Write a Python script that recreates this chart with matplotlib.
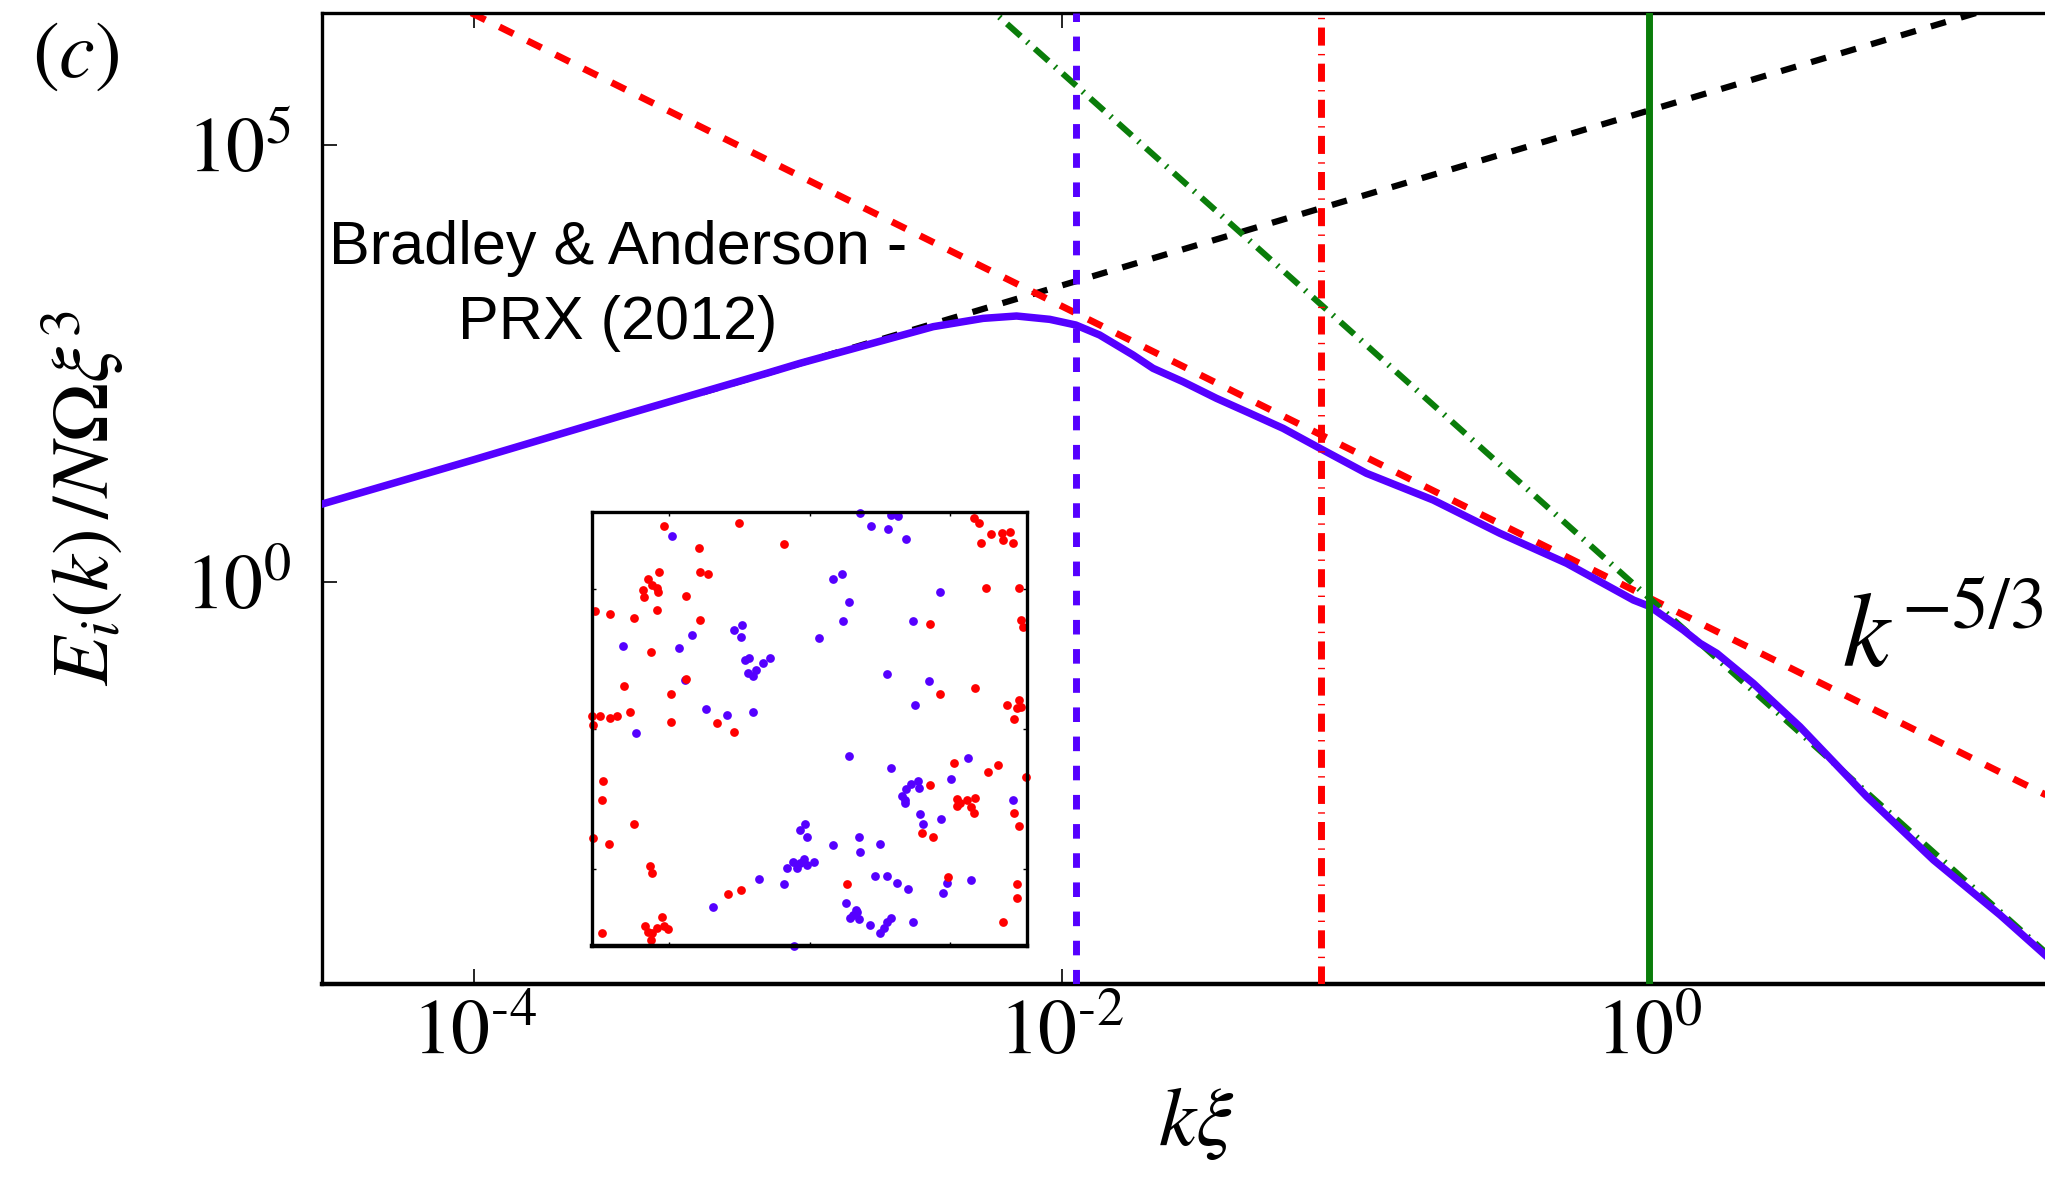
import numpy as np
import matplotlib.pyplot as plt

plt.rcParams['font.family'] = 'STIXGeneral'
plt.rcParams['mathtext.fontset'] = 'stix'

# incompressible kinetic energy spectrum, log10 of k*xi and of E_i
log_k = [-4.60, -4.52, -4.0, -3.5, -3.0, -2.892, -2.665, -2.438, -2.268, -2.154,
         -2.041, -1.952, -1.871, -1.757, -1.689, -1.587, -1.473, -1.359, -1.246,
         -1.121, -0.962, -0.735, -0.508, -0.280, -0.053, 0.003, 0.117, 0.174,
         0.231, 0.355, 0.514, 0.742, 0.969, 1.196, 1.349, 1.42]
log_E = [0.81, 0.89, 1.40, 1.90, 2.39, 2.499, 2.709, 2.918, 3.013, 3.040,
         3.002, 2.937, 2.823, 2.594, 2.442, 2.289, 2.099, 1.928, 1.756,
         1.528, 1.242, 0.937, 0.557, 0.213, -0.206, -0.28, -0.549, -0.701,
         -0.815, -1.158, -1.654, -2.454, -3.177, -3.806, -4.263, -4.47]

# power-law guides E = amp * k**slope, drawn between two end wavenumbers
lin_k = np.array([6e-4, 1e2])
guide_k = np.array([1e-5, 1e2])
amp_lin, slope_lin = 2.45e5, 1.0
amp_kolm, slope_kolm = 0.66, -5.0 / 3.0
amp_uv, slope_uv = 0.66, -3.0

# characteristic wavenumbers
k_box = 0.0112
k_mid = 0.0763
k_core = 1.0

# vortex positions for the inset (positive / negative circulation)
red_x = [-1.04, -0.50, -0.79, -0.18, 1.17, 1.21, 1.29, 1.37, 1.43, 1.38, 1.22, 1.45,
         -1.07, -1.15, -1.12, -1.09, -1.19, -1.08, -1.18, -0.78, -0.72, -0.88, -1.09,
         -1.53, -1.42, -1.25, -0.78, -1.13, -0.88, -1.32, -0.99, -1.28, -1.55, -1.49,
         -1.42, -1.37, -1.54, -0.99, -0.66, -0.54, 1.26, 1.49, 0.86, 1.51, 1.52, 1.18,
         0.93, 1.41, 1.49, 1.48, 1.51, 1.46, 1.03, 1.34, 1.27, 1.54, 0.86, 1.05, 1.12,
         1.18, 1.07, 1.15, 1.05, 1.17, 1.46, 1.49, 0.80, 0.88, 0.99, 1.48, 1.48, 1.38,
         0.27, -1.47, -1.48, -1.25, -1.54, -1.43, -1.14, -1.12, -0.58, -0.49, -1.05,
         -1.17, -1.09, -1.01, -1.15, -1.13, -1.12, -1.48, -1.04]
red_y = [1.45, 1.47, 1.29, 1.32, 1.51, 1.47, 1.39, 1.40, 1.41, 1.35, 1.33, 1.33,
         1.12, 1.07, 1.03, 1.01, 0.99, 0.98, 0.94, 1.12, 1.11, 0.95, 0.85,
         0.84, 0.82, 0.79, 0.78, 0.55, 0.36, 0.31, 0.25, 0.12, 0.09, 0.09,
         0.08, 0.09, 0.03, 0.05, 0.04, -0.02, 1.01, 1.01, 0.75, 0.78, 0.73, 0.29,
         0.25, 0.17, 0.21, 0.15, 0.16, 0.07, -0.24, -0.26, -0.31, -0.34, -0.40, -0.50, -0.51,
         -0.49, -0.53, -0.56, -0.55, -0.60, -0.60, -0.69, -0.74, -0.77, -1.06, -1.11, -1.21, -1.38,
         -1.11, -0.37, -0.51, -0.68, -0.78, -0.82, -0.98, -1.03, -1.18, -1.15, -1.34,
         -1.41, -1.42, -1.43, -1.45, -1.51, -1.46, -1.46, -1.41]
blue_x = [0.36, 0.58, 0.63, 0.44, 0.56, 0.69, -0.98, 0.17, 0.23, 0.28, 0.24, 0.93,
          0.74, 0.07, -1.33, -0.93, -0.84, -0.54, -0.48, -0.49, -0.46, -0.43, -0.28,
          -0.33, -0.44, -0.38, -0.40, -0.89, 0.55, 0.85, 0.75, -0.74, -0.59, -0.40,
          -1.24, 0.28, 0.58, 1.13, 1.01, 0.72, 0.77, 0.78, 0.69, 0.66, 0.68, 0.68,
          1.45, 0.79, 0.94, 0.81, -0.03, -0.07, -0.02, 0.35, 0.50, 0.36, 0.17, -0.12,
          -0.16, -0.09, -0.04, -0.02, 0.03, -0.07, -0.36, -0.18, 0.47, 0.55, 0.62,
          0.70, 0.98, 0.95, 1.15, -0.69, 0.26, 0.34, 0.31, 0.29, 0.35, 0.33, 0.43,
          0.50, 0.53, 0.55, 0.58, 0.74, -0.11]
blue_y = [1.54, 1.53, 1.52, 1.45, 1.43, 1.36, 1.38, 1.07, 1.11, 0.91, 0.77, 0.98,
          0.77, 0.65, 0.59, 0.58, 0.67, 0.71, 0.74, 0.66, 0.49, 0.51, 0.51,
          0.47, 0.40, 0.42, 0.38, 0.35, 0.39, 0.34, 0.17, 0.14, 0.10, 0.12,
          -0.03, -0.19, -0.28, -0.21, -0.36, -0.39, -0.37, -0.42, -0.43, -0.48, -0.51, -0.53,
          -0.51, -0.61, -0.64, -0.68, -0.68, -0.72, -0.77, -0.77, -0.82, -0.88, -0.83, -0.95,
          -0.99, -0.99, -0.93, -0.97, -0.95, -0.96, -1.07, -1.11, -1.05, -1.05, -1.10,
          -1.14, -1.10, -1.17, -1.08, -1.27, -1.24, -1.31, -1.33, -1.35, -1.36, -1.29, -1.40,
          -1.46, -1.42, -1.38, -1.35, -1.38, -1.55]

purple = '#5500ff'
red = '#ff0000'
green = '#0a7d0a'

fig = plt.figure(figsize=(20.45, 11.92), dpi=100)
ax = fig.add_axes([0.1575, 0.1745, 0.845, 0.8146])

k_spec = 10.0 ** np.array(log_k)
E_spec = 10.0 ** np.array(log_E)

ax.loglog(lin_k, amp_lin * lin_k ** slope_lin, color='k', lw=4.5,
          dashes=(2.5, 2.5), zorder=2)
ax.loglog(guide_k, amp_kolm * guide_k ** slope_kolm, color=red, lw=4.9,
          dashes=(2.3, 2.3), zorder=2)
ax.loglog(guide_k, amp_uv * guide_k ** slope_uv, color=green, lw=4.4,
          dashes=(3.0, 1.4, 0.3, 1.4), zorder=2)
ax.loglog(k_spec, E_spec, color=purple, lw=5.4, zorder=3)

ax.axvline(k_box, color=purple, lw=5.0, dashes=(2.1, 2.1), zorder=4)
ax.axvline(k_mid, color=red, lw=5.0, dashes=(2.6, 1.2, 0.2, 1.2), zorder=4)
ax.axvline(k_core, color=green, lw=5.0, zorder=4)

ax.set_xlim(10 ** -4.519, 10 ** 1.366)
ax.set_ylim(10 ** -4.594, 10 ** 6.503)

ax.set_xticks([1e-4, 1e-2, 1e0])
ax.set_xticklabels([r'$10^{\text{-}4}$', r'$10^{\text{-}2}$', r'$10^{0}$'])
ax.set_yticks([1e0, 1e5])
ax.set_yticklabels([r'$10^{0}$', r'$10^{5}$'])
ax.minorticks_off()
ax.tick_params(axis='both', which='major', direction='in', length=11, width=1.2,
               labelsize=56, top=True, right=False)
ax.tick_params(axis='x', pad=12)
ax.tick_params(axis='y', pad=22)

for side in ['left', 'top']:
    ax.spines[side].set_linewidth(2.4)
ax.spines['bottom'].set_linewidth(3.2)
ax.spines['right'].set_visible(False)

ax.set_xlabel(r'$k\xi$', fontsize=60)
ax.xaxis.set_label_coords(0.506, -0.105)
ax.set_ylabel(r'$E_i(k)\,/N\mathit{\Omega}\xi^3$', fontsize=58)
ax.yaxis.set_label_coords(-0.113, 0.5)

ax.text(0.1713, 0.787, 'Bradley & Anderson -\nPRX (2012)', transform=ax.transAxes,
        family='Liberation Sans', fontsize=44, ha='center', va='top',
        linespacing=1.42)
ax.text(0.8796, 0.3265, r'$k^{-5/3}$', transform=ax.transAxes, fontsize=76,
        ha='left', va='baseline')
fig.text(0.0372, 0.952, r'$(c)$', fontsize=58, ha='center', va='center')

# inset: vortex configuration
ins = fig.add_axes([0.2895, 0.2064, 0.2127, 0.3641])
ins.plot(blue_x, blue_y, 'o', color=purple, ms=6.3, mec='none', clip_on=False)
ins.plot(red_x, red_y, 'o', color=red, ms=6.3, mec='none', clip_on=False)
ins.set_xlim(-1.55, 1.55)
ins.set_ylim(-1.55, 1.55)
ins.set_xticks([-1, 0, 1])
ins.set_yticks([-1, 0, 1])
ins.tick_params(direction='in', length=3, width=1, top=True, right=True,
                labelbottom=False, labelleft=False)
for side in ins.spines:
    ins.spines[side].set_linewidth(2.4)
ins.spines['bottom'].set_linewidth(3.2)

fig.savefig('out.png', dpi=100)
